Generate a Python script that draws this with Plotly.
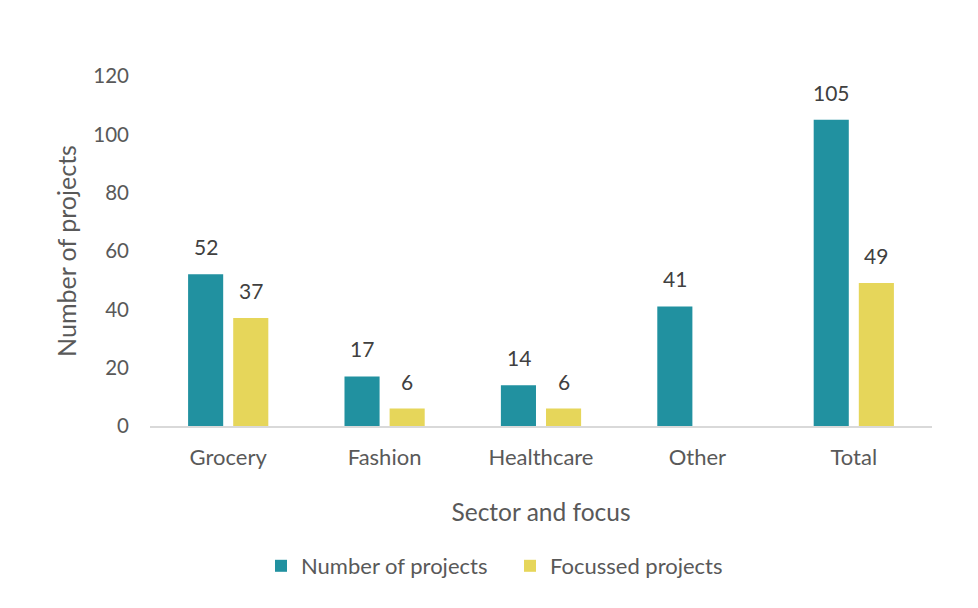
import plotly.graph_objects as go

categories = ["Grocery", "Fashion", "Healthcare", "Other", "Total"]
number_of_projects = [52, 17, 14, 41, 105]
focussed_projects = [37, 6, 6, None, 49]
y_ticks = [0, 20, 40, 60, 80, 100, 120]

TEAL = "#2191A0"
YELLOW = "#E6D65A"
FONT = "Lato, Open Sans, sans-serif"
TXT = "#595959"
LBL = "#404040"

fig = go.Figure()
fig.add_trace(go.Bar(x=categories, y=number_of_projects, name="Number of projects",
                     marker=dict(color=TEAL, line=dict(width=0))))
fig.add_trace(go.Bar(x=categories, y=focussed_projects, name="Focussed projects",
                     marker=dict(color=YELLOW, line=dict(width=0))))

for series, shift in ((number_of_projects, -22.5), (focussed_projects, 22.5)):
    for c, v in zip(categories, series):
        if v is None:
            continue
        fig.add_annotation(x=c, y=v, text=str(v), showarrow=False, xshift=shift,
                           yshift=13, yanchor="bottom",
                           font=dict(family=FONT, size=21, color=LBL))

fig.update_layout(
    width=978, height=608,
    margin=dict(l=142, r=54, t=68, b=190),
    paper_bgcolor="white", plot_bgcolor="white",
    barmode="group", bargap=0.423, bargroupgap=0.222,
    font=dict(family=FONT, color=TXT, size=20),
    showlegend=True,
    legend=dict(orientation="h", xref="container", yref="container",
                x=0.5 + 13 / 978, xanchor="center", y=1 - 558 / 608, yanchor="middle",
                font=dict(family=FONT, size=22, color=TXT),
                itemwidth=30, tracegroupgap=0, entrywidth=204),
)
fig.update_xaxes(showgrid=False, showline=True, linecolor="#D9D9D9", linewidth=1.5,
                 ticks="", ticklabelstandoff=11,
                 tickfont=dict(family=FONT, size=22, color=TXT),
                 title=dict(text="Sector and focus", standoff=35,
                            font=dict(family=FONT, size=24.5, color=TXT)))
fig.update_yaxes(range=[0, 120], tickvals=y_ticks, showgrid=False, showline=False,
                 zeroline=False, ticks="", ticklabelstandoff=20,
                 tickfont=dict(family=FONT, size=20.5, color=TXT),
                 title=dict(text="Number of projects", standoff=9,
                            font=dict(family=FONT, size=25, color=TXT)))

fig.write_html("out.html")
